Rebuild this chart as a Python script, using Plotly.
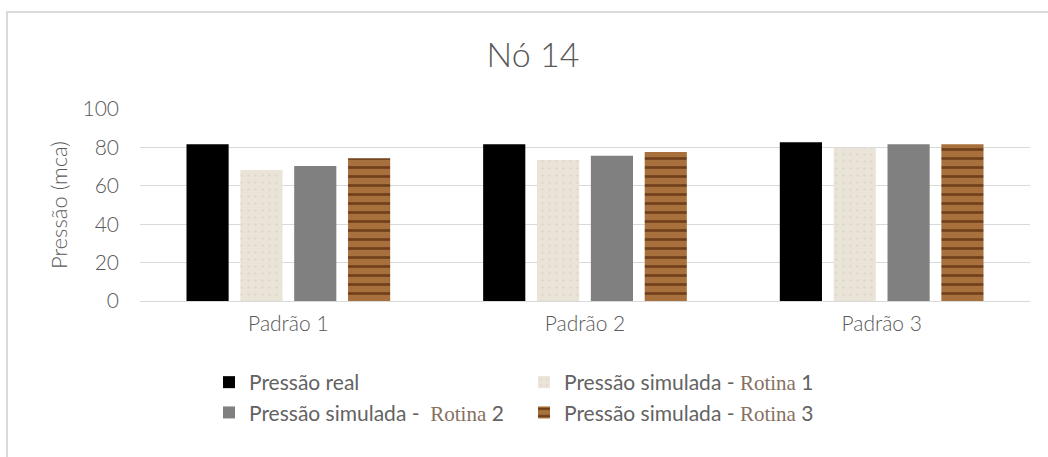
import plotly.graph_objects as go

# Pressure at node 14 for each demand pattern
categories = ["Padrão 1", "Padrão 2", "Padrão 3"]
pressao_real = [81.7, 81.7, 82.7]
rotina_1 = [68.2, 73.4, 79.8]
rotina_2 = [70.3, 75.6, 81.7]
rotina_3 = [74.4, 77.6, 81.7]

ROT = "<span style=\"font-family:'Liberation Serif';color:#86705f\">Rotina</span>"
series_names = [
    "Pressão real",
    "Pressão simulada -&nbsp;" + ROT + " 1",
    "Pressão simulada -&nbsp;&nbsp;" + ROT + " 2",
    "Pressão simulada -&nbsp;" + ROT + " 3",
]

TEXT = "#595959"
LEGEND_TEXT = "#636363"
GRID = "#d9d9d9"
FONT = "Lato"

W, H = 1048, 457
ML, MR, MT, MB = 140, 18, 109, 156
PW, PH = W - ML - MR, H - MT - MB


def px_x(p):
    return (p - ML) / PW


def px_y(p):
    return (H - MB - p) / PH


fig = go.Figure()

fig.add_trace(go.Bar(
    x=categories, y=pressao_real, name=series_names[0],
    marker=dict(color="#000000", line=dict(width=0)),
))
fig.add_trace(go.Bar(
    x=categories, y=rotina_1, name=series_names[1],
    marker=dict(
        color="#e8e0d4", line=dict(width=0),
        pattern=dict(shape=".", fgcolor="#dcd3c6", bgcolor="#eae3d8",
                     size=7, solidity=0.08, fillmode="replace"),
    ),
))
fig.add_trace(go.Bar(
    x=categories, y=rotina_2, name=series_names[2],
    marker=dict(color="#808080", line=dict(width=0)),
))
fig.add_trace(go.Bar(
    x=categories, y=rotina_3, name=series_names[3],
    marker=dict(
        color="#9c6330", line=dict(width=0),
        pattern=dict(shape="-", fgcolor="#70401a", bgcolor="#a8703c",
                     size=9, solidity=0.3, fillmode="replace"),
    ),
))

# Outer chart frame (extends past the right and bottom edges of the page)
fig.add_shape(
    type="rect", xref="paper", yref="paper", layer="below",
    x0=px_x(7), x1=px_x(W + 60), y0=px_y(H + 60), y1=px_y(12),
    line=dict(color=GRID, width=2), fillcolor="rgba(0,0,0,0)",
)

fig.update_layout(
    width=W, height=H,
    margin=dict(l=ML, r=MR, t=MT, b=MB, autoexpand=False),
    paper_bgcolor="white", plot_bgcolor="white",
    barmode="group", bargap=0.274, bargroupgap=0.217,
    font=dict(family=FONT, color=TEXT, size=21),
    title=dict(
        text="Nó 14", x=533 / W, xref="container", xanchor="center",
        y=1 - 55 / H, yref="container", yanchor="middle",
        font=dict(family=FONT, size=34, color=TEXT, weight=300),
    ),
    yaxis=dict(
        range=[0, 100], dtick=20, showgrid=True, gridcolor=GRID, gridwidth=1.3,
        zeroline=True, zerolinecolor=GRID, zerolinewidth=1.3,
        showline=False, ticks="", ticklabelstandoff=20,
        tickfont=dict(family=FONT, size=21, color=TEXT, weight=300),
        title=dict(text="Pressão (mca)", standoff=8,
                   font=dict(family=FONT, size=22, color=TEXT, weight=300)),
        fixedrange=True,
    ),
    xaxis=dict(
        showgrid=False, showline=False, ticks="", ticklabelstandoff=8,
        tickfont=dict(family=FONT, size=21, color=TEXT, weight=300),
        fixedrange=True,
    ),
    legend=dict(
        orientation="h", x=px_x(209), xanchor="left",
        y=px_y(362), yanchor="top",
        entrywidth=270, entrywidthmode="pixels",
        font=dict(family=FONT, size=21, color=LEGEND_TEXT, weight=400),
        bgcolor="rgba(0,0,0,0)", traceorder="normal",
    ),
    showlegend=True,
)

fig.write_html("out.html")
